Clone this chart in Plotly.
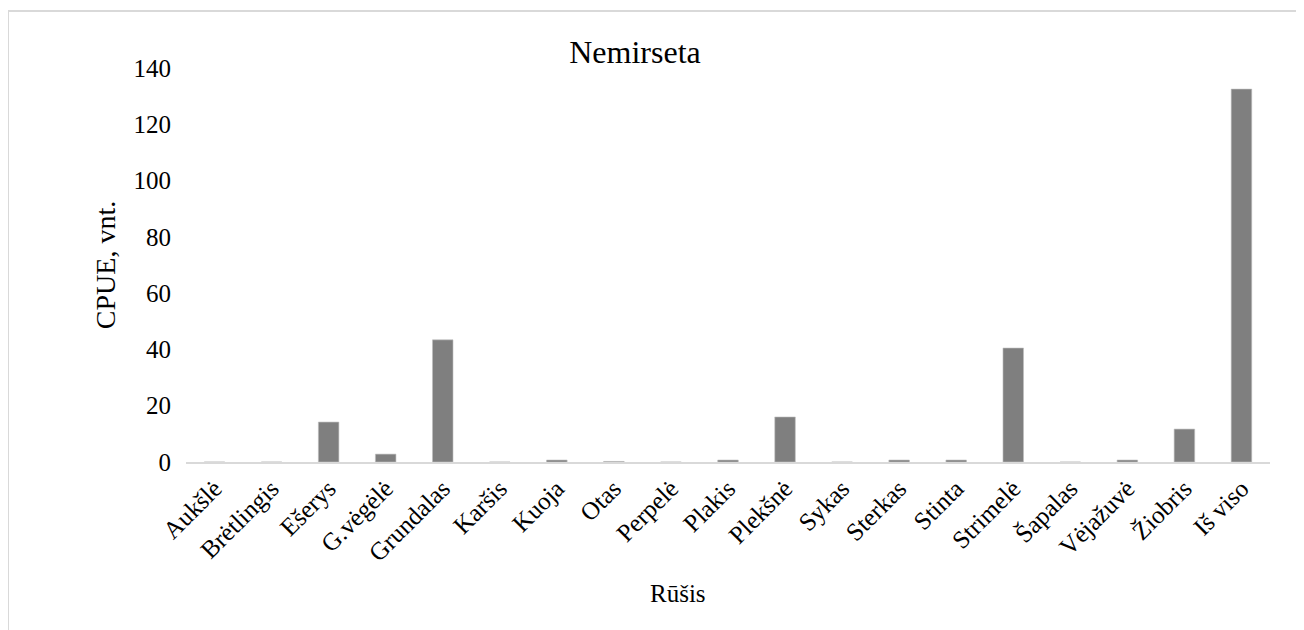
import plotly.graph_objects as go

categories = ["Aukšlė", "Brėtlingis", "Ešerys", "G.vėgėlė", "Grundalas", "Karšis", "Kuoja",
              "Otas", "Perpelė", "Plakis", "Plekšnė", "Sykas", "Sterkas", "Stinta",
              "Strimelė", "Šapalas", "Vėjažuvė", "Žiobris", "Iš viso"]
values = [0, 0, 14.2, 2.8, 43.4, 0, 0.7, 0.2, 0, 0.7, 16.0, 0, 0.7, 0.7, 40.5, 0, 0.7, 11.7, 132.5]
y_ticks = [0, 20, 40, 60, 80, 100, 120, 140]

FF = "Liberation Serif"
OFF = 8  # page body margin

W, H = 1304, 630
plot_left, plot_right, plot_top, plot_bottom = 186, 1270, 68, 462
L = plot_left - OFF
T = plot_top - OFF
R = W - (plot_right - OFF)
B = H - (plot_bottom - OFF)
pw = W - L - R
ph = H - T - B

def px_to_paper_x(px):
    return (px - plot_left) / pw

def px_to_paper_y(py):
    return (plot_bottom - py) / ph

fig = go.Figure(go.Bar(
    x=categories, y=values,
    marker=dict(color="#7f7f7f", line=dict(color="#bfbfbf", width=0.6)),
))

fig.update_layout(
    width=W, height=H,
    margin=dict(l=L, r=R, t=T, b=B),
    paper_bgcolor="white", plot_bgcolor="white",
    font=dict(family=FF, size=24, color="black"),
    title=dict(text="Nemirseta", x=(635 - OFF) / W, xanchor="center",
               y=1 - (52 - OFF) / H, yanchor="middle", font=dict(size=32, family=FF)),
    bargap=0.64,
    showlegend=False,
    xaxis=dict(
        tickangle=-45, showgrid=False, showline=True, linecolor="#d9d9d9", linewidth=2,
        ticks="", tickfont=dict(size=25, family=FF),
    ),
    yaxis=dict(
        title=dict(text="CPUE, vnt.", font=dict(size=28, family=FF), standoff=9),
        range=[0, 140], tickvals=y_ticks, showgrid=False, zeroline=False,
        showline=False, ticks="", tickfont=dict(size=25, family=FF),
        ticklabelstandoff=14,
    ),
    annotations=[dict(
        text="Rūšis", xref="paper", yref="paper",
        x=px_to_paper_x(678), y=px_to_paper_y(593),
        xanchor="center", yanchor="middle", showarrow=False,
        font=dict(size=25, family=FF, color="black"),
    )],
    shapes=[dict(
        type="rect", xref="paper", yref="paper",
        x0=px_to_paper_x(8), x1=px_to_paper_x(1310),
        y0=px_to_paper_y(640), y1=px_to_paper_y(11),
        line=dict(color="#d9d9d9", width=2), fillcolor="rgba(0,0,0,0)", layer="below",
    )],
)

fig.write_html("out.html")
